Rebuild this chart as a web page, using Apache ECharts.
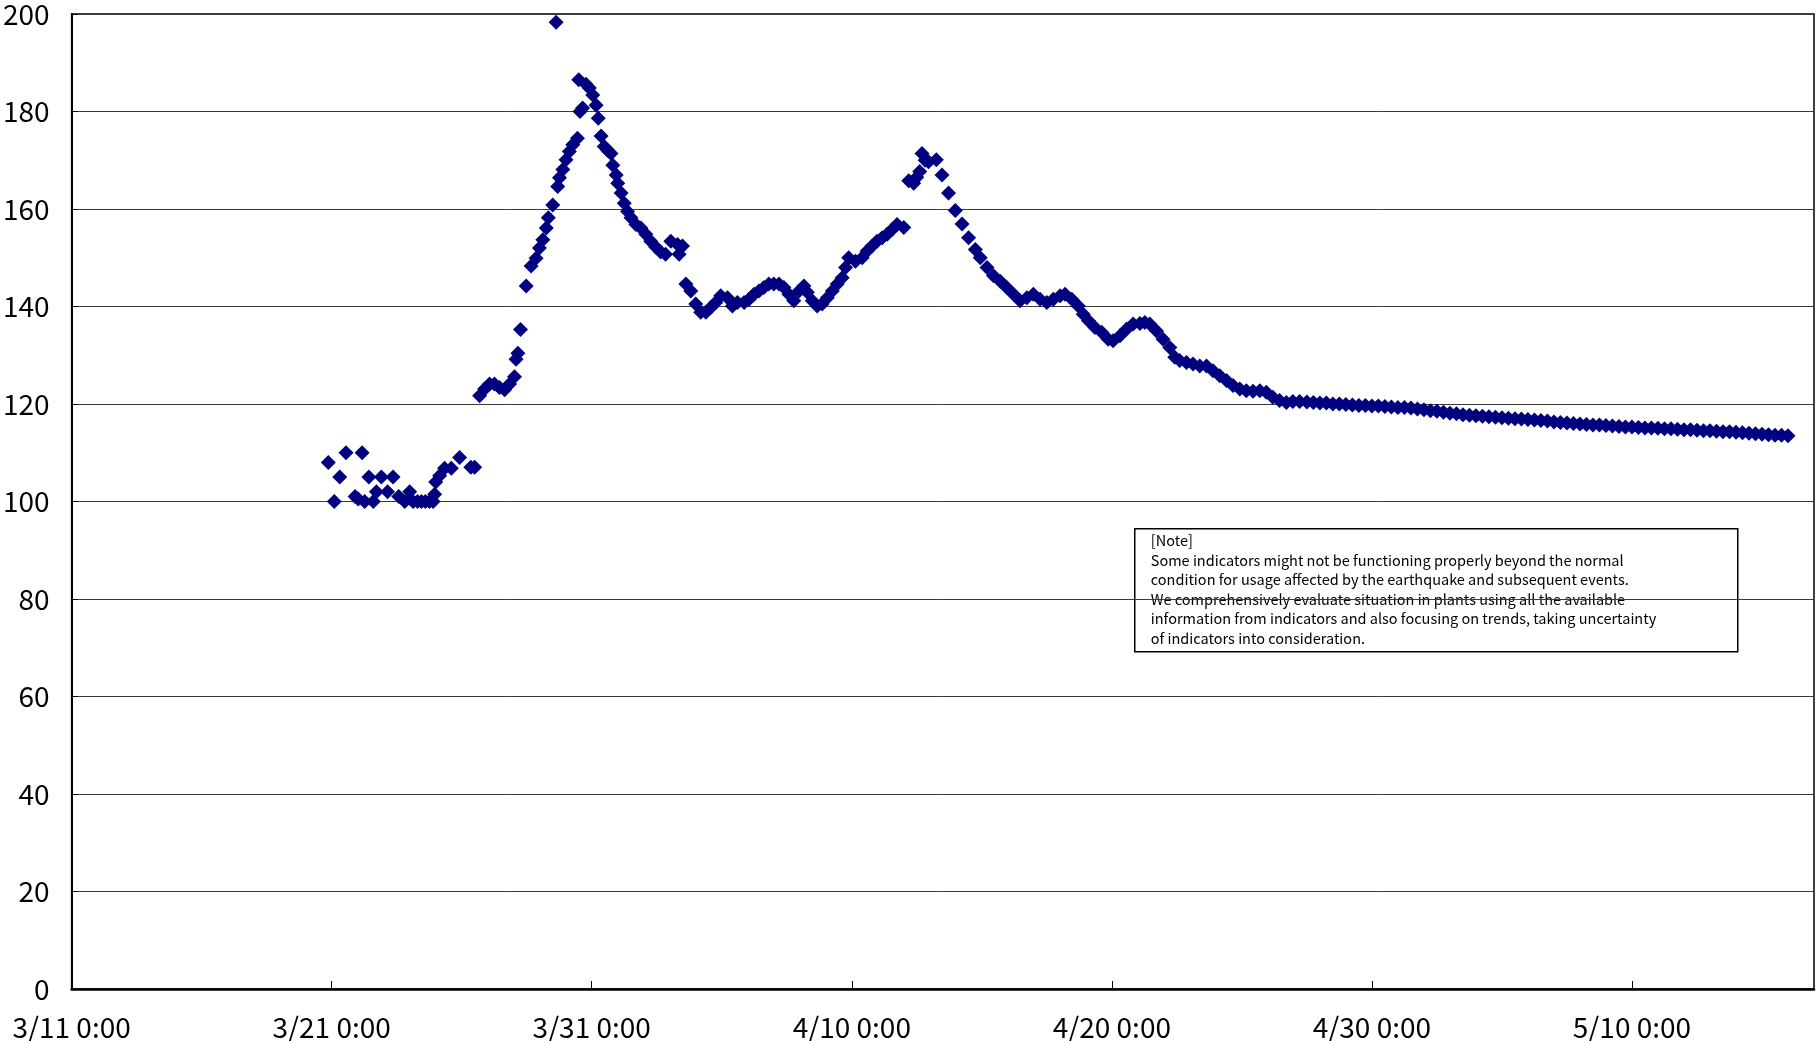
<!DOCTYPE html>
<html>
<head>
<meta charset="utf-8">
<script src="https://cdn.jsdelivr.net/npm/echarts@6/dist/echarts.min.js"></script>
<style>
html,body{margin:0;padding:0;background:#fff;}
#chart{width:1816px;height:1041px;}
</style>
</head>
<body>
<div id="chart"></div>
<script>
// x tick labels (every 10 days from 3/11 0:00)
const xTickLabels = ['3/11 0:00', '3/21 0:00', '3/31 0:00', '4/10 0:00', '4/20 0:00', '4/30 0:00', '5/10 0:00'];
const yTickValues = [0, 20, 40, 60, 80, 100, 120, 140, 160, 180, 200];

// Time of each reading, in days elapsed since 3/11 0:00
const dayOffsets = [
  9.87, 10.10, 10.31, 10.55, 10.90, 11.02, 11.17, 11.27, 11.43, 11.60,
  11.72, 11.91, 12.15, 12.36, 12.58, 12.81, 13.00, 13.13, 13.30, 13.45,
  13.60, 13.76, 13.90, 13.96, 14.00, 14.15, 14.34, 14.60, 14.92, 15.35,
  15.50,
  15.69, 15.88, 16.07, 16.26, 16.45, 16.65, 16.84, 17.03, 17.09, 17.16,
  17.26, 17.48, 17.67, 17.86, 17.99, 18.12, 18.25, 18.33, 18.50, 18.63,
  18.69, 18.76, 18.89, 19.01, 19.14, 19.27, 19.45, 19.50, 19.55, 19.65,
  19.78, 19.91, 20.04, 20.17, 20.25, 20.36, 20.48, 20.62, 20.74, 20.81,
  20.94, 21.00, 21.13, 21.25, 21.38, 21.51, 21.70, 21.89, 22.08, 22.27,
  22.46, 22.65, 22.84, 23.04, 23.30, 23.36, 23.49, 23.62, 23.81, 24.00,
  24.19, 24.39, 24.58, 24.77, 24.96, 25.22, 25.41, 25.60, 25.86, 26.05,
  26.24, 26.43, 26.62, 26.81, 27.00, 27.20, 27.39, 27.58, 27.77, 27.97,
  28.16, 28.29, 28.48, 28.67, 28.86, 29.06, 29.25, 29.44, 29.63, 29.76,
  29.88, 30.14, 30.40, 30.59, 30.78, 30.97, 31.17, 31.36, 31.55, 31.74,
  32.00, 32.19, 32.38, 32.50, 32.61, 32.70, 32.82, 32.95, 33.25, 33.47,
  33.72, 33.98, 34.24, 34.49, 34.75, 34.94, 35.20, 35.45, 35.71, 35.96,
  36.22, 36.47, 36.73, 36.98, 37.24, 37.50, 37.75, 38.01, 38.20, 38.46,
  38.71, 38.90, 39.10, 39.35, 39.61, 39.86, 40.05, 40.31, 40.57, 40.82,
  41.08, 41.27, 41.46, 41.72, 41.97, 42.23, 42.42, 42.61, 42.87, 43.12,
  43.38, 43.64, 43.89, 44.15, 44.41, 44.66, 44.92, 45.17, 45.43, 45.69,
  45.94, 46.19, 46.45, 46.71, 46.96, 47.22,
  47.50, 47.75, 48.00, 48.25, 48.50, 48.75, 49.00, 49.25, 49.50, 49.75,
  50.00, 50.25, 50.50, 50.75, 51.00, 51.25, 51.50, 51.75, 52.00, 52.25,
  52.50, 52.75, 53.00, 53.25, 53.50, 53.75, 54.00, 54.25, 54.50, 54.75,
  55.00, 55.25, 55.50, 55.75, 56.00, 56.25, 56.50, 56.75, 57.00, 57.25,
  57.50, 57.75, 58.00, 58.25, 58.50, 58.75, 59.00, 59.25, 59.50, 59.75,
  60.00, 60.25, 60.50, 60.75, 61.00, 61.25, 61.50, 61.75, 62.00, 62.25,
  62.50, 62.75, 63.00, 63.25, 63.50, 63.75, 64.00, 64.25, 64.50, 64.75,
  65.00, 65.25, 65.50, 65.75, 66.00
];

// Reading at each time
const readings = [
  108.0, 100.0, 105.0, 110.0, 101.0, 100.5, 110.0, 100.0, 105.0, 100.0,
  102.0, 105.0, 102.0, 105.0, 101.0, 100.0, 102.0, 100.0, 100.0, 100.0,
  100.0, 100.0, 100.0, 101.5, 104.0, 105.3, 106.8, 106.8, 109.0, 107.0,
  107.0,
  121.7, 123.1, 124.1, 124.1, 123.4, 122.9, 124.1, 125.6, 129.2, 130.4,
  135.3, 144.2, 148.3, 149.9, 152.0, 153.7, 156.1, 158.2, 160.8, 198.3,
  164.6, 166.4, 168.1, 170.1, 171.8, 173.2, 174.5, 186.5, 180.0, 180.7,
  185.6, 184.8, 183.4, 181.3, 178.6, 175.0, 172.8, 172.0, 171.4, 169.0,
  167.0, 165.3, 163.3, 161.2, 159.5, 158.2, 156.8, 156.1, 154.8, 153.4,
  152.2, 151.2, 150.7, 153.4, 152.7, 150.7, 152.4, 144.6, 143.2, 140.5,
  138.8, 138.8, 139.8, 140.8, 142.2, 141.8, 140.1, 140.8, 140.8, 141.5,
  142.5, 143.2, 143.9, 144.6, 144.6, 144.6, 143.9, 142.5, 141.2, 143.2,
  144.2, 142.9, 141.2, 140.1, 140.5, 141.8, 143.2, 144.6, 145.9, 148.0,
  150.0, 149.3, 150.0, 151.4, 152.4, 153.4, 154.1, 154.8, 155.8, 156.8,
  156.2, 165.8, 165.3, 166.5, 167.7, 171.4, 170.0, 169.7, 170.1, 167.0,
  163.3, 159.7, 156.9, 154.1, 151.7, 150.0, 148.0, 146.3, 145.2, 143.9,
  142.5, 141.2, 141.8, 142.5, 141.5, 140.8, 141.5, 142.2, 142.5, 141.5,
  140.1, 138.4, 137.1, 135.7, 134.7, 133.3, 133.0, 134.0, 135.4, 136.4,
  136.5, 136.7, 136.4, 135.0, 133.3, 131.6, 129.6, 128.9, 128.5, 128.2,
  127.8, 127.8, 126.8, 125.8, 124.8, 123.8, 123.1, 122.7, 122.6, 122.7,
  122.4, 121.4, 120.7, 120.3, 120.5, 120.5,
  120.4, 120.3, 120.2, 120.2, 120.0, 120.0, 119.9, 119.8, 119.7, 119.7,
  119.6, 119.6, 119.5, 119.4, 119.3, 119.3, 119.2, 119.0, 118.8, 118.6,
  118.5, 118.3, 118.1, 118.0, 117.8, 117.7, 117.6, 117.5, 117.4, 117.3,
  117.2, 117.1, 117.0, 116.9, 116.8, 116.7, 116.6, 116.5, 116.3, 116.2,
  116.1, 116.0, 115.9, 115.8, 115.7, 115.7, 115.6, 115.5, 115.4, 115.3,
  115.3, 115.2, 115.1, 115.1, 115.0, 114.9, 114.9, 114.8, 114.7, 114.7,
  114.6, 114.5, 114.5, 114.4, 114.3, 114.3, 114.2, 114.1, 114.0, 113.9,
  113.8, 113.7, 113.6, 113.6, 113.5
];

const noteLines = [
  '[Note]',
  'Some indicators might not be functioning properly beyond the normal',
  'condition for usage affected by the earthquake and subsequent events.',
  'We comprehensively evaluate situation in plants using all the available',
  'information from indicators and also focusing on trends, taking uncertainty',
  'of indicators into consideration.'
];

const points = dayOffsets.map((d, i) => [d, readings[i]]);
const FONT = "'Noto Sans CJK JP', sans-serif";

const chart = echarts.init(document.getElementById('chart'), null, {renderer: 'canvas'});
chart.setOption({
  animation: false,
  backgroundColor: '#ffffff',
  grid: {
    left: 67, right: 2, top: 13, bottom: 52,
    show: true, borderColor: '#000', borderWidth: 1.5, backgroundColor: 'transparent'
  },
  xAxis: {
    type: 'value', min: 0, max: 67, interval: 10,
    axisLine: {show: true, onZero: false, lineStyle: {color: '#000', width: 2.5}},
    axisTick: {show: true, inside: true, length: 8, lineStyle: {color: '#000', width: 1}},
    splitLine: {show: false},
    axisLabel: {
      showMaxLabel: false, margin: 24, color: '#000', fontSize: 28, fontFamily: FONT,
      formatter: v => xTickLabels[Math.round(v / 10)] || ''
    }
  },
  yAxis: {
    type: 'value', min: yTickValues[0], max: yTickValues[yTickValues.length - 1], interval: 20,
    axisLine: {show: true, lineStyle: {color: '#000', width: 2}},
    axisTick: {show: true, inside: true, length: 6, lineStyle: {color: '#000'}},
    splitLine: {show: true, lineStyle: {color: '#3a3a3a', width: 1}},
    axisLabel: {margin: 22, color: '#000', fontSize: 28, fontFamily: FONT}
  },
  series: [{
    type: 'scatter',
    data: points,
    symbol: 'diamond',
    symbolSize: 15,
    itemStyle: {color: '#000080', opacity: 1},
    z: 5
  }],
  graphic: [{
    type: 'group', left: 1134, top: 528, z: 10,
    children: [{
      type: 'rect', shape: {x: 0, y: 0, width: 603, height: 123},
      style: {fill: '#fff', stroke: '#000', lineWidth: 1.5}
    }, {
      type: 'text', left: 16, top: 2,
      style: {
        text: noteLines.join('\n'), fill: '#000', fontSize: 14.5, lineHeight: 19.5,
        fontFamily: FONT
      }
    }]
  }]
});
</script>
</body>
</html>
